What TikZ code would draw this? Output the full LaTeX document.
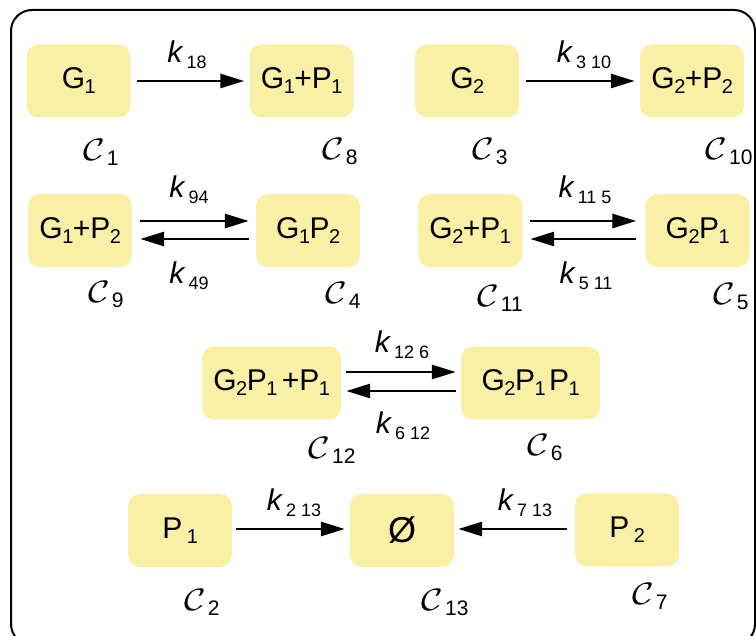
\documentclass[tikz,border=0pt]{standalone}
\usepackage{graphicx}
\usepackage{fontspec}
\setmainfont{Liberation Sans}
\usetikzlibrary{arrows.meta}
\definecolor{boxy}{RGB}{250,240,165}
\newcommand{\bs}[1]{\kern-0.5pt\raisebox{-5pt}{\fontsize{20}{20}\selectfont #1}\kern-0.5pt}
\newcommand{\ks}[1]{\raisebox{-6pt}{\fontsize{18}{18}\selectfont #1}}
\newcommand{\kk}[1]{\textit{k}\hspace{3pt}\ks{#1}}
\newcommand{\cc}[1]{\scalebox{3.7}[3.1]{\fontsize{10}{12}\selectfont$\mathcal{C}$}\hspace{2pt}\raisebox{-5pt}{\fontsize{21}{21}\selectfont #1}}
\tikzset{
  cbox/.style={fill=boxy, rounded corners=12pt, minimum width=104pt, minimum height=73pt, inner sep=0pt, font=\fontsize{30}{33}\selectfont},
  wbox/.style={cbox, minimum width=139pt},
  arr/.style={line width=2.8pt, -{Triangle[length=24pt,width=14pt]}},
  klab/.style={font=\fontsize{30}{33}\selectfont, inner sep=0pt},
  clab/.style={font=\fontsize{21}{24}\selectfont, inner sep=0pt},
}
\begin{document}
\begin{tikzpicture}[x=1pt,y=-1pt]
\clip (0,0) rectangle (756,636);
\draw[line width=2pt, rounded corners=21pt] (11,10) rectangle (755,645);
% row 1
\node[cbox] (g1) at (78.5,81) {G\bs{1}};
\node[cbox] (g1p1) at (301.5,81) {G\bs{1}+P\bs{1}};
\node[cbox] (g2) at (467,81) {G\bs{2}};
\node[cbox] (g2p2) at (692,81) {G\bs{2}+P\bs{2}};
% row 2
\node[cbox] (g1pp2) at (80,230.5) {G\bs{1}+P\bs{2}};
\node[cbox] (g1cp2) at (308,230.5) {G\bs{1}P\bs{2}};
\node[cbox] (g2pp1) at (470,230.5) {G\bs{2}+P\bs{1}};
\node[cbox] (g2cp1) at (697.5,230.5) {G\bs{2}P\bs{1}};
% row 3
\node[wbox] (b12) at (271.5,383) {G\bs{2}P\bs{1}\hspace{5pt}+P\bs{1}};
\node[wbox] (b6) at (530.5,383) {G\bs{2}P\bs{1}\hspace{4pt}P\bs{1}};
% row 4
\node[cbox] (p1) at (180,530.5) {P\hspace{5pt}\bs{1}};
\node[cbox, font=\fontsize{36}{38}\selectfont] (nul) at (402,530.5) {Ø};
\node[cbox] (p2) at (627,530) {P\hspace{5pt}\bs{2}};
% arrows
\draw[arr, shorten <=6pt, shorten >=5pt] (g1.east) -- (g1p1.west);
\draw[arr, shorten <=7pt, shorten >=5pt] (g2.east) -- (g2p2.west);
\draw[arr, shorten <=8pt, shorten >=7pt] ([yshift=9.5pt]g1pp2.east) -- ([yshift=9.5pt]g1cp2.west);
\draw[arr, shorten <=7pt, shorten >=8pt] ([yshift=-8.5pt]g1cp2.west) -- ([yshift=-8.5pt]g1pp2.east);
\draw[arr, shorten <=8pt, shorten >=9pt] ([yshift=9.5pt]g2pp1.east) -- ([yshift=9.5pt]g2cp1.west);
\draw[arr, shorten <=9pt, shorten >=8pt] ([yshift=-8.5pt]g2cp1.west) -- ([yshift=-8.5pt]g2pp1.east);
\draw[arr, shorten <=5pt, shorten >=5pt] ([yshift=11pt]b12.east) -- ([yshift=11pt]b6.west);
\draw[arr, shorten <=5pt, shorten >=5pt] ([yshift=-8pt]b6.west) -- ([yshift=-8pt]b12.east);
\draw[arr, shorten <=4pt, shorten >=5pt] ([yshift=1.5pt]p1.east) -- ([yshift=1.5pt]nul.west);
\draw[arr, shorten <=8pt, shorten >=4pt] ([yshift=1pt]p2.west) -- ([yshift=1.5pt]nul.east);
% rate labels
\node[klab] (k18) at (187,55) {\kk{18}};
\node[klab] (k310) at (584,55) {\kk{3 10}};
\node[klab] (k94) at (189,190) {\kk{94}};
\node[klab] (k49) at (189,276) {\kk{49}};
\node[klab] (k115) at (585,190) {\kk{11 5}};
\node[klab] (k511) at (586,276) {\kk{5 11}};
\node[klab] (k126) at (402,345) {\kk{12 6}};
\node[klab] (k612) at (403,426) {\kk{6 12}};
\node[klab] (k213) at (294,503) {\kk{2 13}};
\node[klab] (k713) at (525,503) {\kk{7 13}};
% complex labels
\node[clab] (c1) at (101,152) {\cc{1}};
\node[clab] (c8) at (340,152) {\cc{8}};
\node[clab] (c3) at (490,152) {\cc{3}};
\node[clab] (c10) at (729,152) {\cc{10}};
\node[clab] (c9) at (106,295) {\cc{9}};
\node[clab] (c4) at (343,295) {\cc{4}};
\node[clab] (c11) at (500,298) {\cc{11}};
\node[clab] (c5) at (731,297) {\cc{5}};
\node[clab] (c12) at (332,450) {\cc{12}};
\node[clab] (c6) at (545,448) {\cc{6}};
\node[clab] (c2) at (202,602) {\cc{2}};
\node[clab] (c13) at (445,603) {\cc{13}};
\node[clab] (c7) at (650,596) {\cc{7}};
\end{tikzpicture}
\end{document}
